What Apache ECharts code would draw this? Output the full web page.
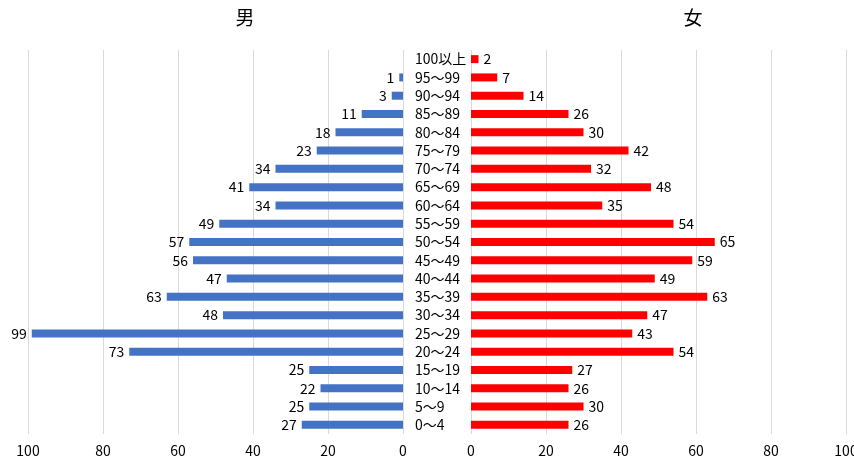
<!DOCTYPE html>
<html>
<head>
<meta charset="utf-8">
<script src="https://cdn.jsdelivr.net/npm/echarts@6/dist/echarts.min.js"></script>
<style>
  html, body { margin: 0; padding: 0; background: #fff; }
  #chart { width: 854px; height: 462px; }
</style>
</head>
<body>
<div id="chart"></div>
<script>
// Age groups, top row first
const ageGroups = ['100以上', '95〜99', '90〜94', '85〜89', '80〜84', '75〜79', '70〜74', '65〜69',
  '60〜64', '55〜59', '50〜54', '45〜49', '40〜44', '35〜39', '30〜34', '25〜29', '20〜24',
  '15〜19', '10〜14', '5〜9', '0〜4'];
// Head counts per age group, same order
const male = [0, 1, 3, 11, 18, 23, 34, 41, 34, 49, 57, 56, 47, 63, 48, 99, 73, 25, 22, 25, 27];
const female = [2, 7, 14, 26, 30, 42, 32, 48, 35, 54, 65, 59, 49, 63, 47, 43, 54, 27, 26, 30, 26];
const axisTicks = [0, 20, 40, 60, 80, 100];

const FONT = '"Noto Sans CJK JP", "Noto Sans", sans-serif';
const chart = echarts.init(document.getElementById('chart'), null, { renderer: 'canvas' });

const valueAxis = (gridIndex, inverse) => ({
  type: 'value', gridIndex, min: axisTicks[0], max: axisTicks[axisTicks.length - 1],
  interval: axisTicks[1] - axisTicks[0], inverse,
  axisLine: { show: false }, axisTick: { show: false },
  axisLabel: { color: '#000', fontSize: 14, fontFamily: FONT, margin: 10 },
  splitLine: { lineStyle: { color: '#d9d9d9', width: 1 } }
});

const barLabel = (pos) => ({
  show: true, position: pos, distance: 5, color: '#000', fontSize: 14, fontFamily: FONT,
  formatter: p => (p.value ? p.value : '')
});

chart.setOption({
  animation: false,
  title: [
    { text: '男', left: 240, top: 3, textAlign: 'center',
      textStyle: { fontSize: 19, fontWeight: 'normal', color: '#000', fontFamily: FONT } },
    { text: '女', left: 688, top: 3, textAlign: 'center',
      textStyle: { fontSize: 19, fontWeight: 'normal', color: '#000', fontFamily: FONT } }
  ],
  grid: [
    { left: 28, width: 375, top: 50, height: 384, containLabel: false, outerBoundsMode: 'none' },
    { left: 471, width: 375, top: 50, height: 384, containLabel: false, outerBoundsMode: 'none' }
  ],
  xAxis: [valueAxis(0, true), valueAxis(1, false)],
  yAxis: [
    { type: 'category', gridIndex: 0, data: ageGroups, inverse: true, position: 'right',
      axisLine: { show: false }, axisTick: { show: false }, axisLabel: { show: false } },
    { type: 'category', gridIndex: 1, data: ageGroups, inverse: true, position: 'left',
      axisLine: { show: false }, axisTick: { show: false },
      axisLabel: { color: '#000', fontSize: 14, fontFamily: FONT, align: 'left', margin: 56 } }
  ],
  series: [
    { type: 'bar', name: '男', xAxisIndex: 0, yAxisIndex: 0, data: male, barWidth: 8,
      itemStyle: { color: '#4472C4' }, label: barLabel('left') },
    { type: 'bar', name: '女', xAxisIndex: 1, yAxisIndex: 1, data: female, barWidth: 8,
      itemStyle: { color: '#FF0000' }, label: barLabel('right') }
  ]
});
</script>
</body>
</html>
